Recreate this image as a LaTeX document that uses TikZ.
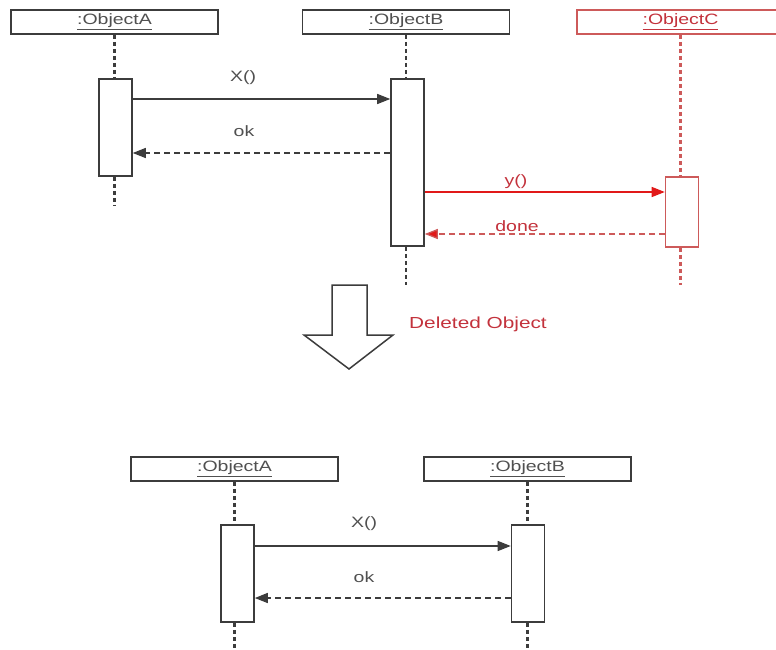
\documentclass[tikz,border=0pt]{standalone}
\usepackage{fontspec}
\setmainfont{Liberation Sans}
\usetikzlibrary{arrows.meta}
\definecolor{txtgrey}{RGB}{80,80,80}
\definecolor{linegrey}{RGB}{60,60,60}
\definecolor{redbox}{RGB}{205,90,90}
\definecolor{redline}{RGB}{225,25,25}
\definecolor{redtxt}{RGB}{195,50,60}
\newcommand{\wtxt}[1]{\scalebox{1.3}[1]{#1}}
\tikzset{
  objbox/.style={draw=linegrey, line width=1.6pt, fill=white, minimum width=207pt, minimum height=24pt, inner sep=0pt, text=txtgrey, font=\fontsize{15}{17}\selectfont},
  actbox/.style={draw=linegrey, line width=1.6pt, fill=white, minimum width=33pt, inner sep=0pt},
  life/.style={draw=linegrey, line width=2.3pt, dash pattern=on 4pt off 3pt},
  msg/.style={draw=linegrey, line width=1.3pt, -{Triangle[length=13pt,width=10pt]}},
  ret/.style={msg, dash pattern=on 6pt off 4pt},
  lbl/.style={text=txtgrey, font=\fontsize{15}{17}\selectfont, inner sep=0pt},
  redobj/.style={objbox, draw=redbox, text=redtxt},
  redact/.style={actbox, draw=redbox},
  redmsg/.style={msg, draw=redline, -{Triangle[length=13pt,width=10pt,fill=redline]}},
  redret/.style={redmsg, dash pattern=on 6pt off 4pt, draw=redbox},
  redlbl/.style={lbl, text=redtxt},
}
\begin{document}
\begin{tikzpicture}[x=1pt,y=-1pt]
\useasboundingbox (0,0) rectangle (776,650);
% ---------- top diagram ----------
\node[objbox] (A) at (114.5,22) {\wtxt{\underline{:ObjectA}}};
\node[objbox] (B) at (406,22) {\wtxt{\underline{:ObjectB}}};
\node[redobj] (C) at (680.5,22) {\wtxt{\underline{:ObjectC}}};

\node[actbox, minimum height=97pt] (a1) at (115.5,127.5) {};
\node[actbox, minimum height=167pt] (b1) at (407.5,162.5) {};
\node[redact, minimum height=70pt] (c1) at (682,212) {};

\coordinate (aend) at (114.5,205);
\coordinate (bend) at (406,285);
\coordinate (cend) at (680.5,285);

\draw[life] (A.south) -- (A.south |- a1.north);
\draw[life] (A.south |- a1.south) -- (aend);
\draw[life] (B.south) -- (B.south |- b1.north);
\draw[life] (B.south |- b1.south) -- (bend);
\draw[life, draw=redbox] (C.south) -- (C.south |- c1.north);
\draw[life, draw=redbox] (C.south |- c1.south) -- (cend);

\draw[msg] (a1.east |- 0,99) -- (b1.west |- 0,99);
\draw[ret] (b1.west |- 0,153) -- (a1.east |- 0,153);
\draw[redmsg] (b1.east |- 0,192) -- (c1.west |- 0,192);
\draw[redret] (c1.west |- 0,234) -- (b1.east |- 0,234);

\node[lbl] (lx) at (243,78) {\wtxt{X()}};
\node[lbl] (lok) at (244,131) {\wtxt{ok}};
\node[redlbl] (ly) at (516,182) {\wtxt{y()}};
\node[redlbl] (ldone) at (517,226) {\wtxt{done}};

% ---------- hollow arrow ----------
\draw[linegrey, line width=1.5pt, line join=miter, fill=white]
  (332,285) -- (367,285) -- (367,335) -- (393,335) -- (349,369) -- (304,335) -- (332,335) -- cycle;
\node[redlbl, font=\fontsize{16}{19}\selectfont] (del) at (478,324) {\wtxt{Deleted Object}};

% ---------- bottom diagram ----------
\node[objbox] (A2) at (234.5,469) {\wtxt{\underline{:ObjectA}}};
\node[objbox] (B2) at (527.5,469) {\wtxt{\underline{:ObjectB}}};

\node[actbox, minimum height=97pt] (a2) at (237.5,573.5) {};
\node[actbox, minimum height=97pt] (b2) at (528,573.5) {};

\coordinate (a2end) at (234.5,650);
\coordinate (b2end) at (527.5,650);

\draw[life] (A2.south) -- (A2.south |- a2.north);
\draw[life] (A2.south |- a2.south) -- (a2end);
\draw[life] (B2.south) -- (B2.south |- b2.north);
\draw[life] (B2.south |- b2.south) -- (b2end);

\draw[msg] (a2.east |- 0,546) -- (b2.west |- 0,546);
\draw[ret] (b2.west |- 0,598) -- (a2.east |- 0,598);

\node[lbl] (lx2) at (364,524) {\wtxt{X()}};
\node[lbl] (lok2) at (364,577) {\wtxt{ok}};
\end{tikzpicture}
\end{document}
